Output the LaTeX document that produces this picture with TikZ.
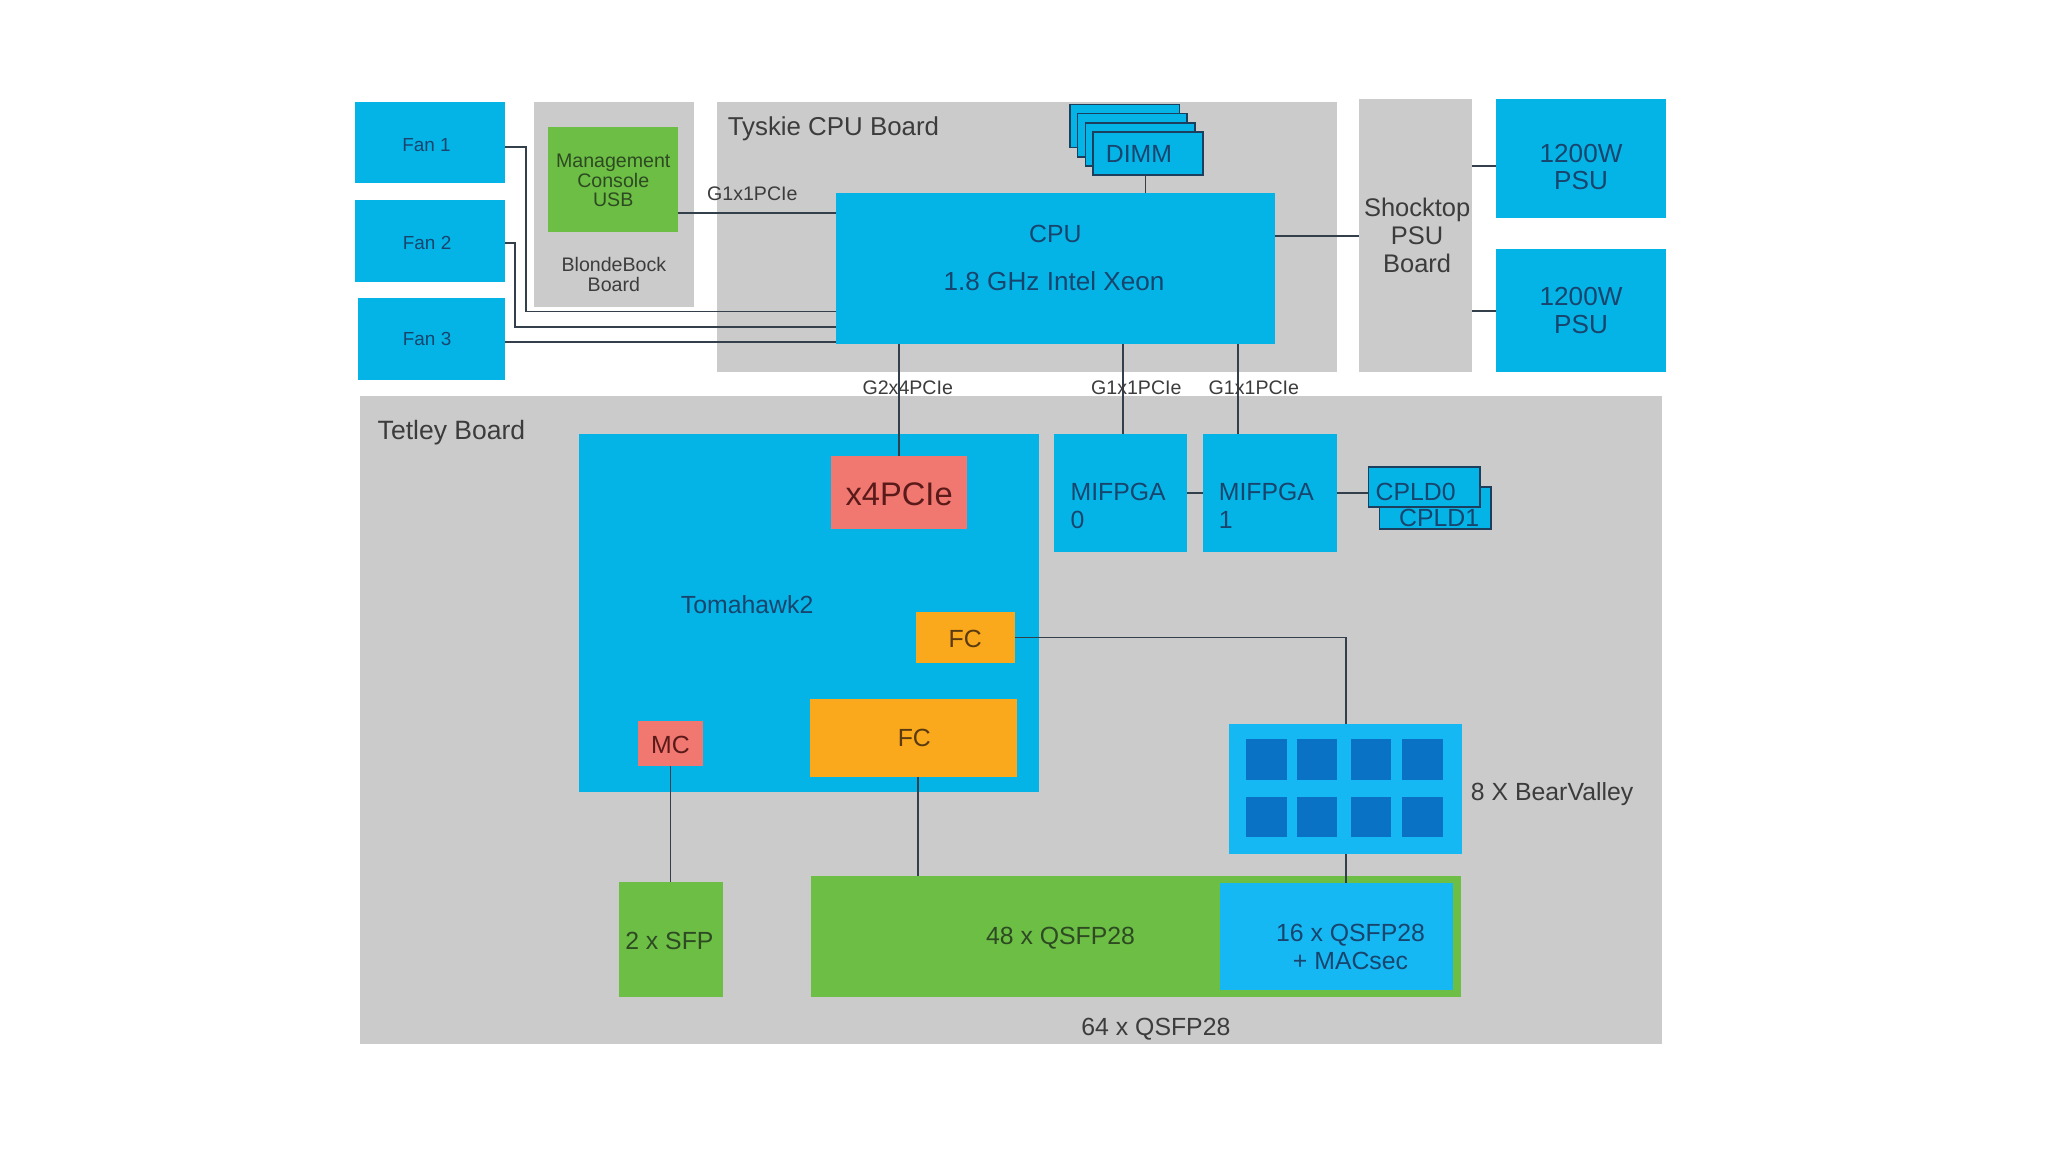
\documentclass[tikz,border=0pt]{standalone}
\usepackage{fontspec}
\setmainfont{Liberation Sans}
\definecolor{cblue}{HTML}{05B4E6}
\definecolor{lblue}{HTML}{16B8F3}
\definecolor{bvsq}{HTML}{0A72C4}
\definecolor{cgray}{HTML}{CBCBCB}
\definecolor{cgreen}{HTML}{6DBE45}
\definecolor{cred}{HTML}{F07870}
\definecolor{corange}{HTML}{F9A91B}
\definecolor{cline}{HTML}{333F4A}
\definecolor{navy}{HTML}{17456E}
\definecolor{dgray}{HTML}{3C3C3C}
\definecolor{dgreen}{HTML}{2D4A22}
\definecolor{dred}{HTML}{5A1A1A}
\definecolor{dbrown}{HTML}{5A3A10}
\definecolor{outl}{HTML}{1C3F5E}
\begin{document}
\begin{tikzpicture}[x=1pt,y=-1pt,
  bx/.style={draw=none,inner sep=0pt,outer sep=0pt,anchor=north west},
  wire/.style={draw=cline,line width=1.3pt},
  stack/.style={bx,fill=cblue,draw=outl,line width=1.2pt},
  l19/.style={inner sep=0pt,font=\fontsize{19}{21.5}\selectfont,text height=13.7pt,text depth=0pt,align=center},
  l19l/.style={l19,align=left,anchor=west},
  l15/.style={inner sep=0pt,font=\fontsize{15}{15.3}\selectfont,text height=10.8pt,text depth=0pt,align=center},
  l14/.style={inner sep=0pt,font=\fontsize{14.5}{15}\selectfont,text height=10.4pt,text depth=0pt,align=center},
  l25/.style={inner sep=0pt,font=\fontsize{25}{28}\selectfont,text height=18pt,text depth=0pt,align=center}]
\useasboundingbox (0,0) rectangle (1568,882);
\fill[white] (0,0) rectangle (1568,882);
% boards
\node[bx,fill=cgray,minimum width=123.1pt,minimum height=157pt] (bbb) at (408.6,77.8) {};
\node[bx,fill=cgray,minimum width=475pt,minimum height=206.8pt] (tys) at (549,77.8) {};
\node[bx,fill=cgray,minimum width=86.3pt,minimum height=209pt] (shock) at (1040.7,76) {};
\node[bx,fill=cgray,minimum width=996.8pt,minimum height=496pt] (tet) at (275.5,303) {};
% fans
\node[bx,fill=cblue,minimum width=114.7pt,minimum height=62.2pt] (fan1) at (272,77.8) {};
\node[bx,fill=cblue,minimum width=114.7pt,minimum height=62.7pt] (fan2) at (272,153) {};
\node[bx,fill=cblue,minimum width=112.7pt,minimum height=63pt] (fan3) at (274,228) {};
\node[bx,fill=cgreen,minimum width=99.3pt,minimum height=81pt] (mgmt) at (419.7,97) {};
% CPU board
\node[stack,minimum width=84pt,minimum height=33pt] (dimm3) at (819,80) {};
\node[stack,minimum width=84pt,minimum height=33pt] (dimm2) at (825,87) {};
\node[stack,minimum width=84pt,minimum height=33pt] (dimm1) at (831,94) {};
\node[stack,minimum width=84pt,minimum height=33pt] (dimm) at (837,101) {};
\node[bx,fill=cblue,minimum width=336pt,minimum height=115pt] (cpu) at (640,148) {};
\node[bx,fill=cblue,minimum width=130pt,minimum height=91pt] (psu1) at (1145.5,76) {};
\node[bx,fill=cblue,minimum width=130pt,minimum height=94pt] (psu2) at (1145.5,191) {};
% Tetley
\node[bx,fill=cblue,minimum width=352.4pt,minimum height=273.7pt] (th) at (443,332.3) {};
\node[bx,fill=cred,minimum width=104.7pt,minimum height=56.3pt] (x4) at (636,349) {};
\node[bx,fill=cblue,minimum width=102pt,minimum height=91pt] (mif0) at (807,332) {};
\node[bx,fill=cblue,minimum width=103pt,minimum height=91pt] (mif1) at (921,332) {};
\node[stack,minimum width=85.6pt,minimum height=32pt] (cpld1) at (1056,373) {};
\node[l19l,text=navy] (tcpld1) at (1071,396) {CPLD1};
\node[stack,minimum width=85.4pt,minimum height=30.4pt] (cpld0) at (1047.6,357.6) {};
\node[bx,fill=corange,minimum width=76pt,minimum height=39.4pt] (fcs) at (701,468.3) {};
\node[bx,fill=corange,minimum width=158.7pt,minimum height=59.7pt] (fcl) at (620,535) {};
\node[bx,fill=cred,minimum width=49.5pt,minimum height=34.7pt] (mc) at (488.5,551.8) {};
\node[bx,fill=lblue,minimum width=178.5pt,minimum height=100pt] (bv) at (941,554) {};
\foreach \xx [count=\i] in {954,993,1034,1073.5}{
  \foreach \yy [count=\j] in {566,610}{
    \node[bx,fill=bvsq,minimum width=31pt,minimum height=31pt] (bvs\i\j) at (\xx,\yy) {};
  }
}
\node[bx,fill=cgreen,minimum width=498pt,minimum height=92.3pt] (qsfp) at (620.7,670.7) {};
\node[bx,fill=lblue,minimum width=178.6pt,minimum height=82pt] (mac) at (934,676) {};
\node[bx,fill=cgreen,minimum width=79.6pt,minimum height=88pt] (sfp) at (473.7,675) {};
% connectors
\draw[wire] ([yshift=-3.4pt]fan1.east) -- ++(16.1,0) |- ([yshift=-33.1pt]cpu.west);
\draw[wire] ([yshift=-1.6pt]fan2.east) -- ++(7.6,0) |- ([yshift=-44.6pt]cpu.west);
\coordinate (f3o) at ([yshift=-2.1pt]fan3.east);
\draw[wire] (f3o) -- (f3o -| cpu.west);
\coordinate (mo) at ([yshift=-25.7pt]mgmt.east);
\draw[wire] (mo) -- (mo -| cpu.west);
\draw[wire] ([xshift=-2pt]dimm.south) -- ([xshift=-2pt]dimm.south |- cpu.north);
\coordinate (co) at ([yshift=24.8pt]cpu.east);
\draw[wire] (co) -- (co -| shock.west);
\coordinate (p1) at ([yshift=-5.5pt]psu1.west);
\draw[wire] (p1 -| shock.east) -- (p1);
\draw[wire] (psu2.west -| shock.east) -- (psu2.west);
\draw[wire] (x4.north) -- (x4.north |- cpu.south);
\coordinate (m0t) at ([xshift=2pt]mif0.north);
\draw[wire] (m0t) -- (m0t |- cpu.south);
\coordinate (m1t) at ([xshift=-24.5pt]mif1.north);
\draw[wire] (m1t) -- (m1t |- cpu.south);
\draw[wire] (mif0.east) -- (mif1.west);
\draw[wire] (mif1.east) -- (mif1.east -| cpld0.west);
\draw[wire] (fcs.east) -| (bv.north);
\draw[wire] (bv.south) -- (bv.south |- mac.north);
\coordinate (fl) at ([xshift=3.6pt]fcl.south);
\draw[wire] (fl) -- (fl |- qsfp.north);
\draw[wire] (mc.south) -- (mc.south |- sfp.north);
% texts
\node[l14,text=navy] (tf1) at (326.6,111) {Fan 1};
\node[l14,text=navy] (tf2) at (327,186) {Fan 2};
\node[l14,text=navy] (tf3) at (327,259) {Fan 3};
\node[l15,text=dgreen,font=\fontsize{15}{15}\selectfont,text height=40.8pt] (tmg) at (469.5,138) {Management\\Console\\USB};
\node[l15,text=dgray,text height=26.1pt] (tbb) at (470,210.5) {BlondeBock\\Board};
\node[l19l,text=dgray,font=\fontsize{19.8}{21.5}\selectfont] (ttys) at (557,97) {Tyskie CPU Board};
\node[l15,text=dgray] (tg1) at (576,148) {G1x1PCIe};
\node[l19,text=navy] (tdimm) at (872,117.5) {DIMM};
\node[l19,text=navy] (tcpu) at (808,179) {CPU};
\node[l19,text=navy,font=\fontsize{20}{22}\selectfont,text height=14.4pt] (txeon) at (807,215) {1.8 GHz Intel Xeon};
\node[l19,text=dgray,font=\fontsize{19.5}{21.3}\selectfont,text height=56.6pt] (tshock) at (1085,180.3) {Shocktop\\PSU\\Board};
\node[l19,text=navy,font=\fontsize{20}{21.3}\selectfont,text height=35.7pt] (tpsu1) at (1210.5,127.5) {1200W\\PSU};
\node[l19,text=navy,font=\fontsize{20}{21.3}\selectfont,text height=35.7pt] (tpsu2) at (1210.5,237.5) {1200W\\PSU};
\node[l15,text=dgray] (tg2) at (695,297) {G2x4PCIe};
\node[l15,text=dgray] (tg3) at (870,297) {G1x1PCIe};
\node[l15,text=dgray] (tg4) at (960,297) {G1x1PCIe};
\node[l19l,text=dgray,font=\fontsize{20.3}{21.5}\selectfont] (ttet) at (289,330) {Tetley Board};
\node[l25,text=dred] (tx4) at (688.4,378) {x4PCIe};
\node[l19l,text=navy,text height=35.2pt] (tmif0) at (819.5,387) {MIFPGA\\0};
\node[l19l,text=navy,text height=35.2pt] (tmif1) at (933,387) {MIFPGA\\1};
\node[l19l,text=navy] (tcpld0) at (1053,376) {CPLD0};
\node[l19,text=navy] (tth) at (572,462.5) {Tomahawk2};
\node[l19,text=dbrown] (tfcs) at (739,489) {FC};
\node[l19,text=dbrown] (tfcl) at (700,565) {FC};
\node[l19,text=dred] (tmc) at (513.3,570) {MC};
\node[l19l,text=dgray] (tbv) at (1126,606) {8 X BearValley};
\node[l19,text=dgreen] (t48) at (812,716.5) {48 x QSFP28};
\node[l19,text=navy,text height=35.2pt] (t16) at (1034,725) {16 x QSFP28\\+ MACsec};
\node[l19,text=dgreen] (tsfp) at (512.5,720) {2 x SFP};
\node[l19,text=dgray] (t64) at (885,786) {64 x QSFP28};
\end{tikzpicture}
\end{document}
